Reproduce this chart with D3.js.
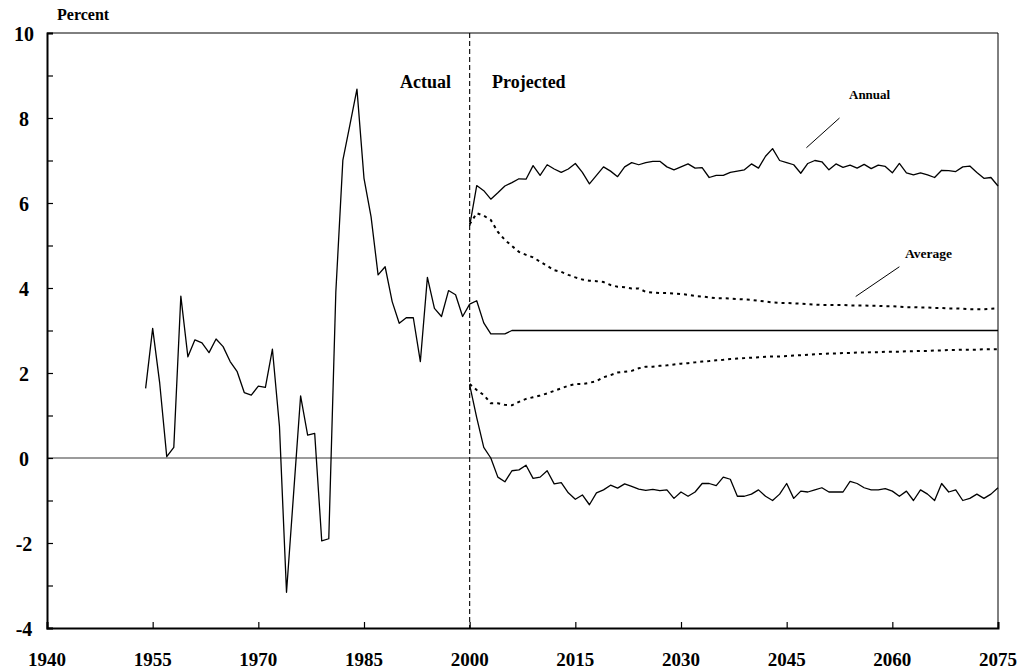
<!DOCTYPE html>
<html>
<head>
<meta charset="utf-8">
<script src="https://cdn.jsdelivr.net/npm/d3@7"></script>
<style>
  body { margin: 0; background: #fff; }
  text { font-family: "Liberation Serif", "Times New Roman", serif; font-weight: bold; fill: #000; }
</style>
</head>
<body>
<div id="chart"></div>
<script>
// dimensions
const width = 1019;
const height = 670;
const margin = { left: 47, right: 21, top: 33, bottom: 42 };

// axis ticks
const xTicks = [1940, 1955, 1970, 1985, 2000, 2015, 2030, 2045, 2060, 2075];
const yTicks = [-4, -2, 0, 2, 4, 6, 8, 10];
const yMinorTicks = [-3, -1, 1, 3, 5, 7, 9];

// actual values, 1954-2000
const histStart = 1954;
const histValues = [1.64, 3.05, 1.76, 0.03, 0.25, 3.81, 2.38, 2.78, 2.71, 2.48,
  2.80, 2.62, 2.27, 2.03, 1.54, 1.48, 1.69, 1.66, 2.56, 0.74,
  -3.16, -0.85, 1.46, 0.54, 0.58, -1.95, -1.90, 3.90, 7.01, 7.84,
  8.68, 6.58, 5.68, 4.31, 4.50, 3.68, 3.17, 3.30, 3.30, 2.27,
  4.25, 3.52, 3.33, 3.94, 3.84, 3.33, 3.62];

// projected series, 2000-2075
const projStart = 2000;
const median = [3.62, 3.70, 3.18, 2.92, 2.92, 2.92, 3.0, 3.0, 3.0, 3.0,
  3.0, 3.0, 3.0, 3.0, 3.0, 3.0, 3.0, 3.0, 3.0, 3.0,
  3.0, 3.0, 3.0, 3.0, 3.0, 3.0, 3.0, 3.0, 3.0, 3.0,
  3.0, 3.0, 3.0, 3.0, 3.0, 3.0, 3.0, 3.0, 3.0, 3.0,
  3.0, 3.0, 3.0, 3.0, 3.0, 3.0, 3.0, 3.0, 3.0, 3.0,
  3.0, 3.0, 3.0, 3.0, 3.0, 3.0, 3.0, 3.0, 3.0, 3.0,
  3.0, 3.0, 3.0, 3.0, 3.0, 3.0, 3.0, 3.0, 3.0, 3.0,
  3.0, 3.0, 3.0, 3.0, 3.0, 3.0];

const annualHigh = [5.46, 6.41, 6.29, 6.09, 6.24, 6.40, 6.48, 6.57, 6.56, 6.88,
  6.65, 6.90, 6.80, 6.72, 6.80, 6.93, 6.72, 6.45, 6.65, 6.85,
  6.75, 6.62, 6.85, 6.95, 6.90, 6.95, 6.98, 6.98, 6.85, 6.78,
  6.85, 6.92, 6.82, 6.83, 6.60, 6.65, 6.65, 6.72, 6.75, 6.78,
  6.92, 6.82, 7.10, 7.28, 7.00, 6.95, 6.90, 6.70, 6.93, 7.00,
  6.97, 6.78, 6.92, 6.84, 6.89, 6.82, 6.91, 6.81, 6.89, 6.86,
  6.71, 6.93, 6.71, 6.66, 6.71, 6.66, 6.60, 6.77, 6.76, 6.74,
  6.85, 6.87, 6.72, 6.58, 6.60, 6.40];

const annualLow = [1.72, 0.95, 0.25, 0.00, -0.45, -0.56, -0.30, -0.28, -0.17, -0.48,
  -0.45, -0.30, -0.61, -0.58, -0.82, -0.97, -0.87, -1.10, -0.82, -0.75,
  -0.64, -0.71, -0.61, -0.67, -0.73, -0.76, -0.74, -0.77, -0.75, -0.95,
  -0.80, -0.90, -0.80, -0.60, -0.60, -0.65, -0.45, -0.50, -0.90, -0.90,
  -0.85, -0.75, -0.90, -1.00, -0.85, -0.60, -0.95, -0.78, -0.80, -0.75,
  -0.70, -0.80, -0.80, -0.80, -0.55, -0.60, -0.70, -0.75, -0.75, -0.72,
  -0.78, -0.90, -0.78, -1.00, -0.75, -0.85, -1.00, -0.60, -0.80, -0.75,
  -1.00, -0.95, -0.85, -0.95, -0.85, -0.70];

const averageHigh = [5.50, 5.76, 5.70, 5.60, 5.32, 5.13, 4.99, 4.85, 4.78, 4.72,
  4.62, 4.52, 4.42, 4.38, 4.31, 4.25, 4.20, 4.17, 4.16, 4.14,
  4.07, 4.03, 4.02, 3.99, 3.99, 3.91, 3.89, 3.88, 3.88, 3.87,
  3.86, 3.84, 3.81, 3.80, 3.78, 3.76, 3.76, 3.75, 3.74, 3.73,
  3.72, 3.70, 3.68, 3.66, 3.65, 3.65, 3.64, 3.63, 3.62, 3.61,
  3.60, 3.60, 3.60, 3.60, 3.59, 3.59, 3.59, 3.58, 3.58, 3.57,
  3.57, 3.56, 3.55, 3.55, 3.54, 3.54, 3.53, 3.53, 3.52, 3.52,
  3.51, 3.50, 3.50, 3.50, 3.51, 3.52];

const averageLow = [1.74, 1.60, 1.48, 1.29, 1.29, 1.25, 1.24, 1.32, 1.39, 1.43,
  1.47, 1.52, 1.58, 1.64, 1.70, 1.74, 1.74, 1.77, 1.81, 1.90,
  1.95, 2.01, 2.03, 2.05, 2.11, 2.15, 2.15, 2.17, 2.18, 2.20,
  2.22, 2.23, 2.25, 2.27, 2.28, 2.30, 2.31, 2.33, 2.34, 2.35,
  2.36, 2.37, 2.38, 2.39, 2.39, 2.40, 2.41, 2.42, 2.43, 2.44,
  2.45, 2.46, 2.46, 2.47, 2.47, 2.48, 2.48, 2.49, 2.49, 2.50,
  2.50, 2.50, 2.51, 2.51, 2.52, 2.52, 2.53, 2.53, 2.54, 2.54,
  2.55, 2.55, 2.55, 2.56, 2.56, 2.56];

// ========= scales ==============
const x = d3.scaleLinear().domain([1940, 2075]).range([margin.left, width - margin.right]);
const y = d3.scaleLinear().domain([-4, 10]).range([height - margin.bottom, margin.top]);

const svg = d3.select("#chart").append("svg")
  .attr("width", width)
  .attr("height", height);

const toPoints = (start, vals) => vals.map((v, i) => [start + i, v]);
const line = d3.line().x(d => x(d[0])).y(d => y(d[1]));

// zero line
svg.append("line")
  .attr("x1", x(1940)).attr("x2", x(2075))
  .attr("y1", y(0)).attr("y2", y(0))
  .attr("stroke", "#7a7a7a").attr("stroke-width", 1.4);

// frame (top + right thin)
svg.append("path")
  .attr("d", `M${x(1940)},${y(10)}H${x(2075)}V${y(-4)}`)
  .attr("fill", "none").attr("stroke", "#000").attr("stroke-width", 1);

// Actual / Projected divider
svg.append("line")
  .attr("x1", x(2000)).attr("x2", x(2000))
  .attr("y1", y(10)).attr("y2", y(-4))
  .attr("stroke", "#000").attr("stroke-width", 1.1)
  .attr("stroke-dasharray", "5,3");

// --- axes ---
const xAxis = d3.axisBottom(x).tickValues(xTicks).tickSize(-6).tickFormat("");
svg.append("g")
  .attr("transform", `translate(0,${y(-4)})`)
  .call(xAxis)
  .call(g => g.select(".domain").attr("stroke-width", 2))
  .call(g => g.selectAll(".tick line").attr("stroke-width", 1.2));

const yAxis = d3.axisLeft(y).tickValues(yTicks.concat(yMinorTicks)).tickSize(-6).tickFormat("");
svg.append("g")
  .attr("transform", `translate(${x(1940)},0)`)
  .call(yAxis)
  .call(g => g.select(".domain").attr("stroke-width", 2))
  .call(g => g.selectAll(".tick line").attr("stroke-width", 1.2));

// tick labels
svg.append("g").selectAll("text")
  .data(xTicks)
  .join("text")
  .attr("x", d => x(d))
  .attr("y", 666)
  .attr("text-anchor", "middle")
  .attr("font-size", "19px")
  .text(d => d);

svg.append("g").selectAll("text")
  .data(yTicks)
  .join("text")
  .attr("x", 24)
  .attr("y", d => y(d) + 8)
  .attr("text-anchor", "middle")
  .attr("font-size", "20px")
  .text(d => d);

svg.append("text")
  .attr("x", 57).attr("y", 20)
  .attr("font-size", "16px")
  .text("Percent");

// --- series ---
const solid = [toPoints(histStart, histValues), toPoints(projStart, median),
               toPoints(projStart, annualHigh), toPoints(projStart, annualLow)];
svg.append("g").selectAll("path")
  .data(solid)
  .join("path")
  .attr("d", line)
  .attr("fill", "none")
  .attr("stroke", "#000")
  .attr("stroke-width", 1.3)
  .attr("stroke-linejoin", "round");

const dotted = [toPoints(projStart, averageHigh), toPoints(projStart, averageLow)];
svg.append("g").selectAll("path")
  .data(dotted)
  .join("path")
  .attr("d", line)
  .attr("fill", "none")
  .attr("stroke", "#000")
  .attr("stroke-width", 2)
  .attr("stroke-dasharray", "3,4");

// --- labels ---
svg.append("text").attr("x", 451).attr("y", 88).attr("text-anchor", "end")
  .attr("font-size", "18px").text("Actual");
svg.append("text").attr("x", 492).attr("y", 88).attr("font-size", "18px").text("Projected");

svg.append("text").attr("x", 849).attr("y", 99).attr("font-size", "13px").text("Annual");
svg.append("line")
  .attr("x1", x(2052.5)).attr("y1", y(8.0))
  .attr("x2", x(2047.8)).attr("y2", y(7.3))
  .attr("stroke", "#000").attr("stroke-width", 1);

svg.append("text").attr("x", 905).attr("y", 258).attr("font-size", "13.5px").text("Average");
svg.append("line")
  .attr("x1", x(2061)).attr("y1", y(4.5))
  .attr("x2", x(2054.8)).attr("y2", y(3.8))
  .attr("stroke", "#000").attr("stroke-width", 1);
</script>
</body>
</html>
